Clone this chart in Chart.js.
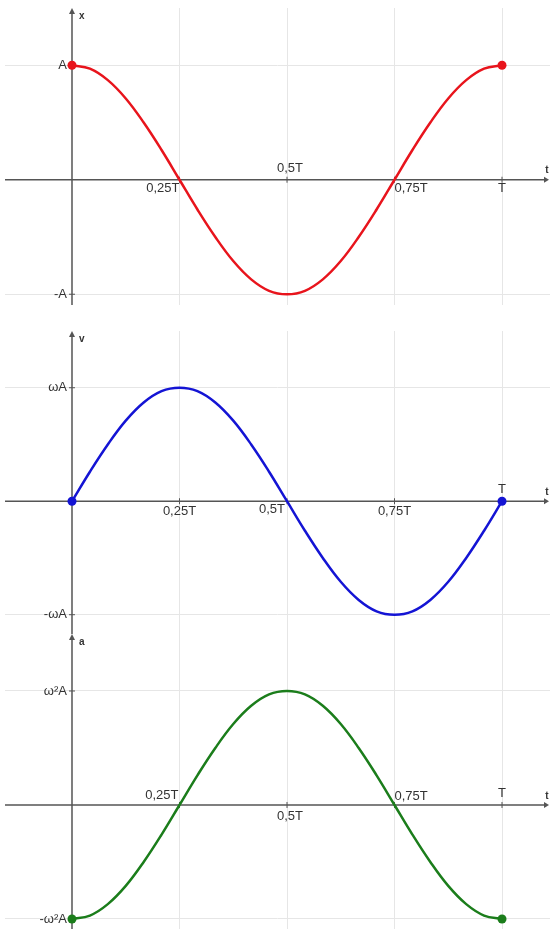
<!DOCTYPE html>
<html>
<head>
<meta charset="utf-8">
<title>x, v, a</title>
<script src="https://cdn.jsdelivr.net/npm/chart.js@4/dist/chart.umd.min.js"></script>
<style>
  html, body { margin: 0; padding: 0; background: #fff; }
  #wrap { position: relative; width: 550px; height: 929px; overflow: hidden; }
  canvas { position: absolute; left: 0; }
</style>
</head>
<body>
<div id="wrap">
  <canvas id="xChart"></canvas>
  <canvas id="vChart"></canvas>
  <canvas id="aChart"></canvas>
</div>
<script>
// time as a fraction of the period T
const tValues = [0, 0.0417, 0.0833, 0.125, 0.1667, 0.2083, 0.25, 0.2917, 0.3333, 0.375, 0.4167, 0.4583,
                 0.5, 0.5417, 0.5833, 0.625, 0.6667, 0.7083, 0.75, 0.7917, 0.8333, 0.875, 0.9167, 0.9583, 1];
// displacement, in units of A
const xValues = [1, 0.97, 0.87, 0.71, 0.5, 0.26, 0, -0.26, -0.5, -0.71, -0.87, -0.97,
                 -1, -0.97, -0.87, -0.71, -0.5, -0.26, 0, 0.26, 0.5, 0.71, 0.87, 0.97, 1];
// velocity, in units of ωA
const vValues = [0, 0.26, 0.5, 0.71, 0.87, 0.97, 1, 0.97, 0.87, 0.71, 0.5, 0.26,
                 0, -0.26, -0.5, -0.71, -0.87, -0.97, -1, -0.97, -0.87, -0.71, -0.5, -0.26, 0];
// acceleration, in units of ω²A
const aValues = [-1, -0.97, -0.87, -0.71, -0.5, -0.26, 0, 0.26, 0.5, 0.71, 0.87, 0.97,
                 1, 0.97, 0.87, 0.71, 0.5, 0.26, 0, -0.26, -0.5, -0.71, -0.87, -0.97, -1];

const tTicks = [0.25, 0.5, 0.75, 1];
const tTickLabels = ['0,25T', '0,5T', '0,75T', 'T'];
const yTicks = [1, -1];
const xTickLabels = ['A', '-A'];
const vTickLabels = ['ωA', '-ωA'];
const aTickLabels = ['ω²A', '-ω²A'];

const TEXT = '#333333';
const AXIS = '#555555';
const GRID = '#e6e6e6';
const FONT = '13px "Liberation Sans", Arial, sans-serif';

// where each t label sits: [textAlign, dx, dy] relative to the tick on the t axis
const panels = [
  { id: 'xChart', axisName: 'x', values: xValues, yLabels: xTickLabels, color: '#e8141c',
    top: 8, height: 297, yMin: -1.094,
    tPlace: [['right', 0, 9], ['center', 3, -11], ['left', 0, 9], ['center', 0, 9]] },
  { id: 'vChart', axisName: 'v', values: vValues, yLabels: vTickLabels, color: '#1414d4',
    top: 331, height: 303, yMin: -1.170,
    tPlace: [['center', 0, 10], ['right', -2, 8], ['center', 0, 10], ['center', 0, -12]] },
  { id: 'aChart', axisName: 'a', values: aValues, yLabels: aTickLabels, color: '#1b7d1b',
    top: 634, height: 295, yMin: -1.088,
    tPlace: [['right', -1, -10], ['center', 3, 11], ['left', 0, -9], ['center', 0, -12]] }
];

const axesPlugin = {
  id: 'axes',
  beforeDatasetsDraw(chart, args, opts) {
    const { ctx, chartArea, scales: { x, y } } = chart;
    const ox = x.getPixelForValue(0);
    const oy = y.getPixelForValue(0);
    ctx.save();
    ctx.strokeStyle = AXIS;
    ctx.fillStyle = AXIS;
    ctx.lineWidth = 1.5;
    ctx.beginPath();
    ctx.moveTo(chartArea.left, oy);
    ctx.lineTo(chartArea.right - 3, oy);
    ctx.moveTo(ox, chartArea.top + 3);
    ctx.lineTo(ox, chartArea.bottom);
    ctx.stroke();

    ctx.lineWidth = 1;
    ctx.beginPath();
    tTicks.forEach(t => {
      const px = x.getPixelForValue(t);
      ctx.moveTo(px, oy - 3);
      ctx.lineTo(px, oy + 3);
    });
    yTicks.forEach(v => {
      const py = y.getPixelForValue(v);
      ctx.moveTo(ox - 3, py);
      ctx.lineTo(ox + 3, py);
    });
    ctx.stroke();

    // arrow heads
    ctx.beginPath();
    ctx.moveTo(ox, chartArea.top);
    ctx.lineTo(ox - 3, chartArea.top + 6);
    ctx.lineTo(ox + 3, chartArea.top + 6);
    ctx.closePath();
    ctx.fill();
    ctx.beginPath();
    ctx.moveTo(chartArea.right - 1, oy);
    ctx.lineTo(chartArea.right - 6, oy - 3);
    ctx.lineTo(chartArea.right - 6, oy + 3);
    ctx.closePath();
    ctx.fill();
    ctx.restore();
  },
  afterDraw(chart, args, opts) {
    const { ctx, chartArea, scales: { x, y } } = chart;
    const ox = x.getPixelForValue(0);
    const oy = y.getPixelForValue(0);
    ctx.save();
    ctx.fillStyle = TEXT;
    ctx.font = FONT;
    ctx.textBaseline = 'middle';

    tTicks.forEach((t, i) => {
      const [align, dx, dy] = opts.tPlace[i];
      ctx.textAlign = align;
      ctx.fillText(tTickLabels[i], x.getPixelForValue(t) + dx, oy + dy);
    });

    ctx.textAlign = 'right';
    yTicks.forEach((v, i) => {
      ctx.fillText(opts.yLabels[i], ox - 5, y.getPixelForValue(v));
    });

    ctx.font = 'bold 10px "Liberation Sans", Arial, sans-serif';
    ctx.textAlign = 'left';
    ctx.fillText(opts.axisName, ox + 7, chartArea.top + 8);
    ctx.textAlign = 'center';
    ctx.fillText('t', chartArea.right - 3, oy - 9);
    ctx.restore();
  }
};

panels.forEach(p => {
  const canvas = document.getElementById(p.id);
  canvas.width = 550;
  canvas.height = p.height;
  canvas.style.top = p.top + 'px';
  const last = p.values.length - 1;

  new Chart(canvas, {
    type: 'line',
    data: {
      datasets: [{
        data: tValues.map((t, i) => ({ x: t, y: p.values[i] })),
        borderColor: p.color,
        backgroundColor: p.color,
        borderWidth: 2.5,
        tension: 0.4,
        pointRadius: ctx => (ctx.dataIndex === 0 || ctx.dataIndex === last) ? 4.5 : 0,
        pointBorderWidth: 0
      }]
    },
    options: {
      responsive: false,
      animation: false,
      devicePixelRatio: 1,
      layout: { autoPadding: false, padding: { left: 5, right: 0, top: 0, bottom: 0 } },
      plugins: {
        legend: { display: false },
        tooltip: { enabled: false },
        axes: { tPlace: p.tPlace, yLabels: p.yLabels, axisName: p.axisName }
      },
      scales: {
        x: {
          type: 'linear',
          min: -0.1558,
          max: 1.1116,
          afterBuildTicks: scale => { scale.ticks = tTicks.map(v => ({ value: v })); },
          ticks: { display: false },
          grid: { color: GRID, lineWidth: 1, drawTicks: false },
          border: { display: false }
        },
        y: {
          type: 'linear',
          min: p.yMin,
          max: 1.5,
          afterBuildTicks: scale => { scale.ticks = yTicks.map(v => ({ value: v })); },
          ticks: { display: false },
          grid: { color: GRID, lineWidth: 1, drawTicks: false },
          border: { display: false }
        }
      }
    },
    plugins: [axesPlugin]
  });
});
</script>
</body>
</html>
